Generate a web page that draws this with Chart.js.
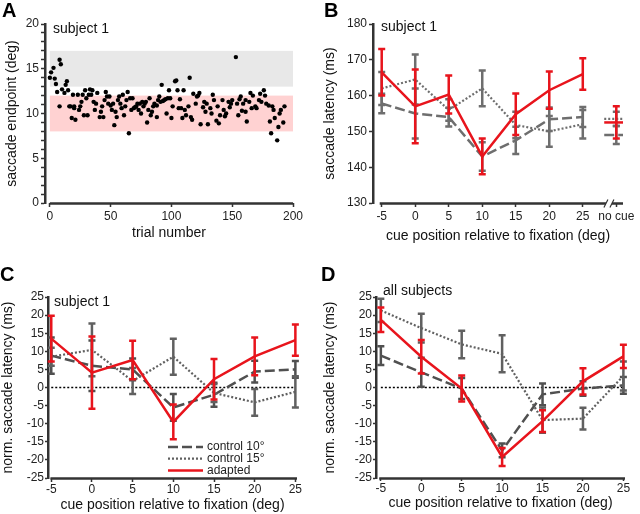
<!DOCTYPE html>
<html>
<head>
<meta charset="utf-8">
<script src="https://cdn.jsdelivr.net/npm/chart.js@4.4.0/dist/chart.umd.min.js"></script>
<style>
  body { margin: 0; background: #fff; }
  #wrap { position: relative; width: 640px; height: 514px; }
  .panel { position: absolute; width: 320px; height: 257px; }
  .letter { position: absolute; font: bold 20px "Liberation Sans", Arial, sans-serif; color: #000; }
</style>
</head>
<body>
<div id="wrap">
  <div class="panel" style="left:0;top:0"><canvas id="chartA" width="320" height="257"></canvas></div>
  <div class="panel" style="left:320px;top:0"><canvas id="chartB" width="320" height="257"></canvas></div>
  <div class="panel" style="left:0;top:257px"><canvas id="chartC" width="320" height="257"></canvas></div>
  <div class="panel" style="left:320px;top:257px"><canvas id="chartD" width="320" height="257"></canvas></div>
  <div class="letter" style="left:2px;top:-1px">A</div>
  <div class="letter" style="left:324px;top:-1px">B</div>
  <div class="letter" style="left:0px;top:263px">C</div>
  <div class="letter" style="left:321px;top:263px">D</div>
</div>
<script>
// panel A: saccade endpoints per trial
var trialNum = [0,1,3,4,5,6,8,9,8,10,12,13,14,15,16,17,18,19,20,20,
  21,23,24,25,26,27,28,29,30,31,32,33,34,35,36,37,38,39,41,42,
  43,44,45,46,47,48,49,50,51,52,53,54,55,56,57,58,59,60,61,62,
  63,64,65,66,67,68,69,70,71,72,73,74,75,76,77,78,79,80,81,82,
  83,84,85,86,88,88,89,90,91,92,93,94,95,96,97,98,99,100,101,103,
  104,105,106,107,108,109,110,111,112,114,115,116,117,118,120,121,122,123,124,126,
  127,128,129,130,132,133,134,135,137,138,139,140,142,143,144,145,147,148,149,150,
  153,154,155,156,157,158,159,161,161,162,164,165,166,167,169,170,172,173,174,176,
  177,178,180,181,182,183,184,185,187,188,189,190,192,193];
var endpoint = [14.0,14.6,15.1,13.9,13.3,12.4,16.0,15.5,10.8,12.7,12.3,13.2,13.6,12.6,10.8,10.8,9.5,12.1,10.6,10.8,
  9.3,12.1,10.4,10.8,11.3,12.1,9.8,12.6,11.7,9.8,12.1,12.7,12.1,12.6,11.3,10.4,11.1,12.3,9.6,10.2,
  10.8,9.6,11.5,12.4,11.9,11.1,11.9,10.9,10.4,11.1,8.7,10.2,9.6,11.5,11.9,11.1,10.6,12.1,9.8,10.8,
  11.5,12.4,7.8,11.7,10.4,11.7,10.6,10.7,10.8,11.1,10.4,11.1,10.0,11.3,10.8,11.1,11.3,9.0,10.4,11.7,
  9.8,10.2,10.8,11.1,9.6,10.9,11.5,11.9,11.3,13.2,11.4,11.5,11.6,10.0,11.7,12.6,11.7,9.5,10.8,13.6,
  13.7,12.6,10.6,11.6,10.6,9.5,12.6,10.4,9.8,10.8,14.0,9.6,9.3,12.2,11.1,11.9,12.0,12.3,8.8,10.7,
  11.3,10.2,11.1,8.8,10.6,10.0,12.1,11.5,9.2,10.8,8.9,9.8,11.5,10.4,9.7,10.0,11.3,10.7,11.1,11.5,
  16.3,11.1,9.8,11.6,11.9,10.3,11.1,11.5,10.2,9.1,11.3,12.3,10.6,12.0,10.8,10.6,11.5,12.2,11.3,12.6,
  12.0,11.1,10.9,9.1,7.8,10.8,10.4,9.5,7.0,8.5,10.0,10.4,9.0,10.8];
var bandBaseline = [13, 17];
var bandAdapted = [8, 12];
var trialRange = [0, 200];

// panels B-D: cue positions (deg)
var cuePos = [-5, 0, 5, 10, 15, 20, 25];

// B: subject 1 latency (ms)
var latCtrl10 = [157.8, 155, 154, 143, 147.5, 153.4, 154];
var latCtrl10Err = [2.7, 7, 2.6, 4, 3.8, 3.3, 2.8];
var latCtrl15 = [162, 164.5, 156, 162, 151.8, 150, 152];
var latCtrl15Err = [4.6, 7, 3, 5, 3.7, 4.3, 4];
var latAdapted = [166.5, 157, 160.3, 143, 154.8, 161.5, 166];
var latAdaptedErr = [6.5, 10.3, 5.3, 5, 5.8, 5.2, 4.4];
var noCueLat = [149, 153.5, 152.5];     // ctrl10, ctrl15, adapted
var noCueLatErr = [2.5, 2, 4.5];

// C: subject 1 normalised latency (ms)
var s1Ctrl10 = [8.8, 6, 5, -5.5, -2, 4.4, 5];
var s1Ctrl10Err = [5, 7, 3, 3.7, 3.3, 3, 2.3];
var s1Ctrl15 = [8.5, 10.4, 1.8, 8.5, -1.5, -4.1, -1.2];
var s1Ctrl15Err = [2.5, 7.3, 3.6, 5, 2.5, 3.7, 4.3];
var s1Adapted = [13.5, 4.1, 7.6, -9.5, 2.3, 8.6, 13.1];
var s1AdaptedErr = [6.3, 10, 5.3, 4.8, 5.6, 5.2, 4.3];

// D: all subjects normalised latency (ms)
var allCtrl10 = [8.8, 4.2, -0.3, -17.4, -1.9, -0.3, 0.6];
var allCtrl10Err = [2.6, 4, 2.9, 1.9, 3, 2, 2.3];
var allCtrl15 = [21.3, 16.4, 11.9, 9.3, -9, -8.6, 3.2];
var allCtrl15Err = [3.2, 4, 3.8, 5.1, 3.5, 3, 4];
var allAdapted = [18.7, 8.5, -0.3, -19.2, -9.3, 1.7, 8.6];
var allAdaptedErr = [3.4, 4.6, 3.6, 2.5, 3, 3.6, 3.2];

var seriesNames = ['control 10°', 'control 15°', 'adapted'];

Chart.defaults.font.family = '"Liberation Sans", Arial, sans-serif';
Chart.defaults.font.size = 12;
Chart.defaults.color = '#222';
Chart.defaults.animation = false;
Chart.defaults.events = [];
Chart.defaults.plugins.legend.display = false;
Chart.defaults.plugins.tooltip.enabled = false;

var RED = '#e8141c';
var AXIS = '#333';

function pts(xs, ys) {
  return xs.map(function(x, i){ return {x: x, y: ys[i]}; });
}

function axis(o) {
  return {
    type: 'linear', min: o.min, max: o.max,
    afterFit: function(s){ if (s.isHorizontal()) s.height = o.size; else s.width = o.size; },
    afterBuildTicks: function(s){ s.ticks = o.ticks.map(function(v){ return {value: v}; }); },
    ticks: { autoSkip: false, maxRotation: 0, padding: o.pad, color: '#222',
      callback: o.label || function(v){ return v; } },
    grid: { drawOnChartArea: false, drawTicks: true, tickLength: o.tl || 4, tickWidth: 1.5, tickColor: AXIS },
    border: { display: o.border !== false, width: 2.5, color: AXIS },
    title: { display: true, text: o.title, font: {size: 14}, color: '#111', padding: o.titlePad }
  };
}

var errorBars = {
  id: 'errorBars',
  afterDatasetDraw: function(chart, args){
    var ds = chart.data.datasets[args.index];
    if (!ds.errors) return;
    var xs = chart.scales.x, ys = chart.scales.y, ctx = chart.ctx;
    ctx.save();
    ctx.strokeStyle = ds.errColor || ds.borderColor;
    ctx.lineWidth = 2.5;
    ctx.setLineDash([]);
    ds.data.forEach(function(p, i){
      var e = ds.errors[i];
      if (e == null) return;
      var px = xs.getPixelForValue(p.x);
      var t = ys.getPixelForValue(p.y + e), b = ys.getPixelForValue(p.y - e);
      ctx.beginPath();
      ctx.moveTo(px, t); ctx.lineTo(px, b);
      ctx.moveTo(px - 3.5, t); ctx.lineTo(px + 3.5, t);
      ctx.moveTo(px - 3.5, b); ctx.lineTo(px + 3.5, b);
      ctx.stroke();
    });
    ctx.restore();
  }
};

var xLine = {
  id: 'xLine',
  afterDraw: function(chart, args, o){
    if (o.from == null) return;
    var xs = chart.scales.x, ctx = chart.ctx, y = chart.chartArea.bottom + 0.5;
    var a = xs.getPixelForValue(o.from), b = xs.getPixelForValue(o.to);
    ctx.save();
    ctx.strokeStyle = AXIS; ctx.lineWidth = 2.5;
    ctx.beginPath();
    if (o.brk != null) {
      var m = xs.getPixelForValue(o.brk);
      ctx.moveTo(a, y); ctx.lineTo(m - 3, y);
      ctx.moveTo(m + 3, y); ctx.lineTo(b, y);
      ctx.stroke();
      ctx.lineWidth = 1.2;
      ctx.beginPath();
      ctx.moveTo(m - 5, y + 4); ctx.lineTo(m - 1, y - 4);
      ctx.moveTo(m + 1, y + 4); ctx.lineTo(m + 5, y - 4);
    } else {
      ctx.moveTo(a, y); ctx.lineTo(b, y);
    }
    ctx.stroke();
    ctx.restore();
  }
};

var bands = {
  id: 'bands',
  beforeDatasetsDraw: function(chart, args, o){
    if (!o.list) return;
    var xs = chart.scales.x, ys = chart.scales.y, ctx = chart.ctx;
    o.list.forEach(function(bd){
      var x0 = xs.getPixelForValue(o.xr[0]), x1 = xs.getPixelForValue(o.xr[1]);
      var y0 = ys.getPixelForValue(bd.r[1]), y1 = ys.getPixelForValue(bd.r[0]);
      ctx.fillStyle = bd.c;
      ctx.fillRect(x0, y0, x1 - x0, y1 - y0);
    });
  }
};

var innerText = {
  id: 'innerText',
  afterDraw: function(chart, args, o){
    var ctx = chart.ctx, ca = chart.chartArea;
    ctx.save();
    ctx.font = '14px "Liberation Sans", Arial, sans-serif';
    ctx.fillStyle = '#111';
    ctx.textBaseline = 'middle';
    ctx.fillText(o.text, ca.left + o.dx, ca.top + o.dy);
    if (o.legend) {
      ctx.font = '12px "Liberation Sans", Arial, sans-serif';
      chart.data.datasets.filter(function(d){ return d.legendRow != null; }).forEach(function(d){
        var y = o.legend.y + d.legendRow * 11.7;
        ctx.strokeStyle = d.borderColor; ctx.lineWidth = d.borderWidth;
        ctx.setLineDash(d.borderDash || []);
        ctx.beginPath(); ctx.moveTo(o.legend.x, y); ctx.lineTo(o.legend.x + 35, y); ctx.stroke();
        ctx.fillStyle = '#222';
        ctx.fillText(d.label, o.legend.x + 39, y);
      });
    }
    ctx.restore();
  }
};

function lineSets(v10, e10, v15, e15, vAd, eAd, gray) {
  return [
    { label: seriesNames[0], legendRow: 0, data: pts(cuePos, v10), errors: e10, borderColor: gray.dash,
      borderWidth: 2.5, borderDash: [10, 4], pointRadius: 0, order: 2 },
    { label: seriesNames[1], legendRow: 1, data: pts(cuePos, v15), errors: e15, borderColor: gray.dot,
      borderWidth: 2.2, borderDash: [2, 2], pointRadius: 0, order: 1 },
    { label: seriesNames[2], legendRow: 2, data: pts(cuePos, vAd), errors: eAd, borderColor: RED,
      borderWidth: 2.5, pointRadius: 0, order: 0 }
  ];
}

function zeroLine() {
  return { data: pts([cuePos[0], cuePos[cuePos.length - 1]], [0, 0]), borderColor: '#000',
    borderWidth: 1.5, borderDash: [2, 2], pointRadius: 0, order: 9 };
}

var plugins = [bands, errorBars, xLine, innerText];

// A
new Chart(document.getElementById('chartA'), {
  type: 'scatter',
  data: { datasets: [{ data: pts(trialNum, endpoint), backgroundColor: '#000', borderWidth: 0, pointRadius: 2.2 }] },
  options: {
    responsive: false,
    layout: { padding: { top: 24, right: 27, left: 0, bottom: 0 } },
    scales: {
      x: axis({ min: -4, max: 200, ticks: [0, 50, 100, 150, 200], size: 54, pad: 2, border: false,
        title: 'trial number', titlePad: { top: 0, bottom: 15 } }),
      y: axis({ min: 0, max: 20, ticks: [0,1,2,3,4,5,6,7,8,9,10,11,12,13,14,15,16,17,18,19,20], size: 45, pad: 2,
        label: function(v){ return v % 5 === 0 ? v : ''; },
        title: 'saccade endpoint (deg)', titlePad: { top: 4, bottom: 0 } })
    },
    plugins: {
      bands: { xr: trialRange, list: [{ r: bandBaseline, c: '#e8e8e8' }, { r: bandAdapted, c: '#ffd2d2' }] },
      xLine: { from: trialRange[0], to: trialRange[1] },
      innerText: { text: 'subject 1', dx: 8, dy: 5 }
    }
  },
  plugins: plugins
});

// B
var grayB = { dash: '#6e6e6e', dot: '#6e6e6e' };
var setsB = lineSets(latCtrl10, latCtrl10Err, latCtrl15, latCtrl15Err, latAdapted, latAdaptedErr, grayB);
[0, 1, 2].forEach(function(k){
  var src = setsB[k];
  setsB.push({ data: pts([28.2, 30, 31.8], [noCueLat[k], noCueLat[k], noCueLat[k]]),
    errors: [null, noCueLatErr[k], null], borderColor: src.borderColor, borderWidth: src.borderWidth,
    borderDash: src.borderDash, pointRadius: 0, order: src.order });
});
new Chart(document.getElementById('chartB'), {
  type: 'line',
  data: { datasets: setsB },
  options: {
    responsive: false,
    layout: { padding: { top: 24, right: 17, left: 0, bottom: 0 } },
    scales: {
      x: axis({ min: -6.3, max: 31, ticks: cuePos.concat([30]), size: 54, pad: 2, border: false,
        label: function(v){ return v === 30 ? 'no cue' : v; },
        title: 'cue position relative to fixation (deg)', titlePad: { top: 0, bottom: 12 } }),
      y: axis({ min: 130, max: 180, ticks: [130, 140, 150, 160, 170, 180], size: 53, pad: 2,
        title: 'saccade latency (ms)', titlePad: { top: 2, bottom: 0 } })
    },
    plugins: {
      xLine: { from: -5.3, to: 31, brk: 28.9 },
      innerText: { text: 'subject 1', dx: 8, dy: 3 }
    }
  },
  plugins: plugins
});

var normTicks = [-25, -20, -15, -10, -5, 0, 5, 10, 15, 20, 25];
var grayCD = { dash: '#505050', dot: '#606060' };

// C
new Chart(document.getElementById('chartC'), {
  type: 'line',
  data: { datasets: lineSets(s1Ctrl10, s1Ctrl10Err, s1Ctrl15, s1Ctrl15Err, s1Adapted, s1AdaptedErr, grayCD).concat([zeroLine()]) },
  options: {
    responsive: false,
    layout: { padding: { top: 40, right: 23, left: 0, bottom: 0 } },
    scales: {
      x: axis({ min: -5.4, max: 25.2, ticks: cuePos, size: 36, pad: 0, border: false,
        title: 'cue position relative to fixation (deg)', titlePad: { top: 0, bottom: 0 } }),
      y: axis({ min: -25, max: 25, ticks: normTicks, size: 48, pad: 1, tl: 3,
        title: 'norm. saccade latency (ms)', titlePad: { top: 0, bottom: 0 } })
    },
    plugins: {
      xLine: { from: -5.1, to: 25.2 },
      innerText: { text: 'subject 1', dx: 6, dy: 5, legend: { x: 168, y: 190 } }
    }
  },
  plugins: plugins
});

// D
new Chart(document.getElementById('chartD'), {
  type: 'line',
  data: { datasets: lineSets(allCtrl10, allCtrl10Err, allCtrl15, allCtrl15Err, allAdapted, allAdaptedErr, grayCD).concat([zeroLine()]) },
  options: {
    responsive: false,
    layout: { padding: { top: 40, right: 15, left: 0, bottom: 0 } },
    scales: {
      x: axis({ min: -5.6, max: 25.2, ticks: cuePos, size: 36, pad: 0, tl: 3, border: false,
        title: 'cue position relative to fixation (deg)', titlePad: { top: 0, bottom: 2 } }),
      y: axis({ min: -25, max: 25, ticks: normTicks, size: 56, pad: 1, tl: 3,
        title: 'norm. saccade latency (ms)', titlePad: { top: 2, bottom: 0 } })
    },
    plugins: {
      xLine: { from: -5.2, to: 25.2 },
      innerText: { text: 'all subjects', dx: 7, dy: -6 }
    }
  },
  plugins: plugins
});
</script>
</body>
</html>
